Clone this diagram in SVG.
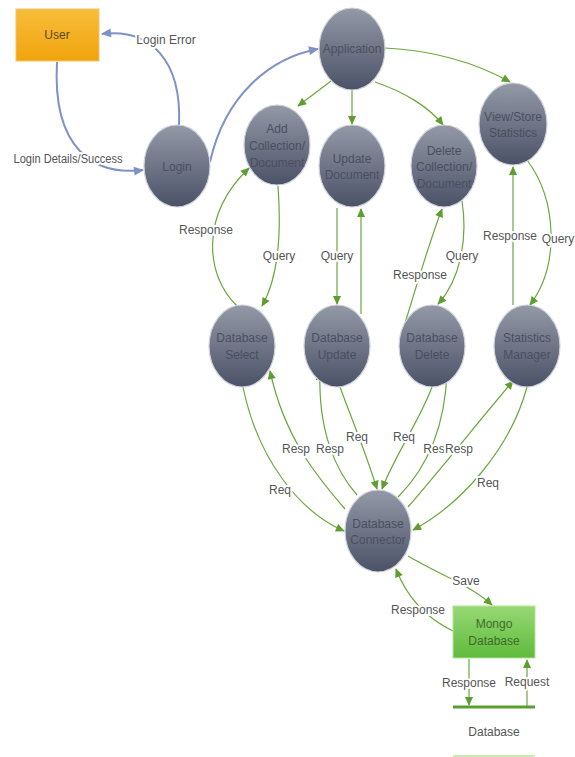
<svg xmlns="http://www.w3.org/2000/svg" width="575" height="757" viewBox="0 0 575 757">
<style>
.n{stroke:#cfd2da;stroke-width:1.2;fill:url(#gn)}
.nt{font-family:"Liberation Sans",Arial,sans-serif;font-size:12px;fill:#4a4f5f;text-anchor:middle}
.lb{font-family:"Liberation Sans",Arial,sans-serif;font-size:12px;fill:#555;text-anchor:middle;stroke:#fff;stroke-width:4px;paint-order:stroke;stroke-linejoin:round}
.g{fill:none;stroke:#6aa83a;stroke-width:1.2;marker-end:url(#ag)}
.b{fill:none;stroke:#7f92c6;stroke-width:2;marker-end:url(#ab)}
</style>
<defs>
<linearGradient id="gn" x1="0" y1="0" x2="0" y2="1">
<stop offset="0" stop-color="#9499a7"/>
<stop offset="1" stop-color="#4b5267"/>
</linearGradient>
<linearGradient id="go" x1="0" y1="0" x2="0" y2="1">
<stop offset="0" stop-color="#f7bd3a"/>
<stop offset="1" stop-color="#f0a40c"/>
</linearGradient>
<linearGradient id="gg" x1="0" y1="0" x2="0" y2="1">
<stop offset="0" stop-color="#98d875"/>
<stop offset="1" stop-color="#5fbb3c"/>
</linearGradient>
<marker id="ag" viewBox="0 0 10 10" refX="9" refY="5" markerWidth="10" markerHeight="9" markerUnits="userSpaceOnUse" orient="auto"><path d="M0,0.5 L10,5 L0,9.5 z" fill="#5e9e30"/></marker>
<marker id="ab" viewBox="0 0 10 10" refX="9" refY="5" markerWidth="11" markerHeight="10" markerUnits="userSpaceOnUse" orient="auto"><path d="M0,0.5 L10,5 L0,9.5 z" fill="#7f92c6"/></marker>
</defs>

<g id="connectors">
<path class="b" d="M57,62 C52,150 95,176 143,170"/>
<path class="b" d="M179,125 C182,60 150,28 102,34"/>
<path class="b" d="M210,162 C225,95 270,58 318,49"/>
<path class="g" d="M331,81 L298,106"/>
<path class="g" d="M352,90 L352,124"/>
<path class="g" d="M375,82 C405,92 430,108 443,125"/>
<path class="g" d="M385,48 C430,50 475,62 510,82"/>
<path class="g" d="M278,186 C282,240 277,280 262,306"/>
<path class="g" d="M237,306 C205,275 200,215 249,168"/>
<path class="g" d="M337,208 L337,304"/>
<path class="g" d="M361,314 L361,209"/>
<path class="g" d="M462,201 C468,240 460,280 438,304"/>
<path class="g" d="M403,330 C415,290 430,240 442,209"/>
<path class="g" d="M527,160 C557,200 560,265 530,305"/>
<path class="g" d="M513,305 L513,167"/>
<path class="g" d="M243,387 C258,460 300,512 344,531"/>
<path class="g" d="M345,509 C320,480 285,440 270,371"/>
<path class="g" d="M357,495 C335,470 318,430 320,372"/>
<path class="g" d="M340,387 C352,420 365,450 377,489"/>
<path class="g" d="M432,387 C420,420 395,455 382,489"/>
<path class="g" d="M398,497 C425,470 445,430 447,372"/>
<path class="g" d="M408,507 C440,470 480,420 513,381"/>
<path class="g" d="M527,387 C510,450 460,505 413,530"/>
<path class="g" d="M408,556 C440,575 470,585 492,605"/>
<path class="g" d="M453,631 C430,620 408,600 396,569"/>
<path class="g" d="M469,659 L469,705"/>
<path class="g" d="M527,706 L527,660"/>
</g>

<g id="labels">
<text class="lb" x="68" y="163" textLength="109" lengthAdjust="spacingAndGlyphs">Login Details/Success</text>
<text class="lb" x="166" y="44">Login Error</text>
<text class="lb" x="206" y="234">Response</text>
<text class="lb" x="279" y="260">Query</text>
<text class="lb" x="337" y="260">Query</text>
<text class="lb" x="462" y="260">Query</text>
<text class="lb" x="420" y="279">Response</text>
<text class="lb" x="510" y="240">Response</text>
<text class="lb" x="558" y="243">Query</text>
<text class="lb" x="280" y="494">Req</text>
<text class="lb" x="296" y="453">Resp</text>
<text class="lb" x="330" y="453">Resp</text>
<text class="lb" x="357" y="441">Req</text>
<text class="lb" x="404" y="441">Req</text>
<text class="lb" x="434" y="453">Res</text>
<text class="lb" x="459" y="453">Resp</text>
<text class="lb" x="488" y="487">Req</text>
<text class="lb" x="466" y="585">Save</text>
<text class="lb" x="418" y="614">Response</text>
<text class="lb" x="469" y="687">Response</text>
<text class="lb" x="527" y="686">Request</text>
</g>

<g id="user">
<rect x="16" y="9" width="83" height="52" fill="url(#go)" stroke="#f3c46a" stroke-width="1"/>
<text class="nt" x="57" y="39" style="fill:#5b4a2a">User</text>
</g>
<g id="login">
<ellipse class="n" cx="177" cy="166" rx="33" ry="41"/>
<text class="nt" x="177" y="171">Login</text>
</g>
<g id="application">
<ellipse class="n" cx="352" cy="49" rx="33" ry="41"/>
<text class="nt" x="352" y="53">Application</text>
</g>
<g id="add-collection">
<ellipse class="n" cx="277" cy="145" rx="33" ry="40"/>
<text class="nt" x="277" y="133">Add</text>
<text class="nt" x="277" y="150">Collection/</text>
<text class="nt" x="277" y="167">Document</text>
</g>
<g id="update-document">
<ellipse class="n" cx="352" cy="166" rx="33" ry="41"/>
<text class="nt" x="352" y="163">Update</text>
<text class="nt" x="352" y="179">Document</text>
</g>
<g id="delete-collection">
<ellipse class="n" cx="444" cy="166" rx="33" ry="41"/>
<text class="nt" x="444" y="155">Delete</text>
<text class="nt" x="444" y="171">Collection/</text>
<text class="nt" x="444" y="188">Document</text>
</g>
<g id="view-store">
<ellipse class="n" cx="513" cy="124" rx="34" ry="41"/>
<text class="nt" x="513" y="121">View/Store</text>
<text class="nt" x="513" y="137">Statistics</text>
</g>
<g id="database-select">
<ellipse class="n" cx="242" cy="346" rx="33" ry="41"/>
<text class="nt" x="242" y="342">Database</text>
<text class="nt" x="242" y="359">Select</text>
</g>
<g id="database-update">
<ellipse class="n" cx="337" cy="346" rx="33" ry="41"/>
<text class="nt" x="337" y="342">Database</text>
<text class="nt" x="337" y="359">Update</text>
</g>
<g id="database-delete">
<ellipse class="n" cx="432" cy="346" rx="33" ry="41"/>
<text class="nt" x="432" y="342">Database</text>
<text class="nt" x="432" y="359">Delete</text>
</g>
<g id="statistics-manager">
<ellipse class="n" cx="527" cy="346" rx="33" ry="41"/>
<text class="nt" x="527" y="342">Statistics</text>
<text class="nt" x="527" y="359">Manager</text>
</g>
<g id="database-connector">
<ellipse class="n" cx="378" cy="531" rx="33" ry="41"/>
<text class="nt" x="378" y="528">Database</text>
<text class="nt" x="378" y="544">Connector</text>
</g>
<g id="mongo-database">
<rect x="453" y="606" width="82" height="52" fill="url(#gg)" stroke="#b5e39a" stroke-width="1"/>
<text class="nt" x="494" y="628" style="fill:#3f6b2c">Mongo</text>
<text class="nt" x="494" y="645" style="fill:#3f6b2c">Database</text>
</g>
<g id="database-store">
<line x1="453" y1="707" x2="535" y2="707" stroke="#5a9e32" stroke-width="3"/>
<text class="nt" x="494" y="736" style="fill:#555">Database</text>
<line x1="453" y1="756" x2="535" y2="756" stroke="#c9ebb4" stroke-width="2"/>
</g>
</svg>
